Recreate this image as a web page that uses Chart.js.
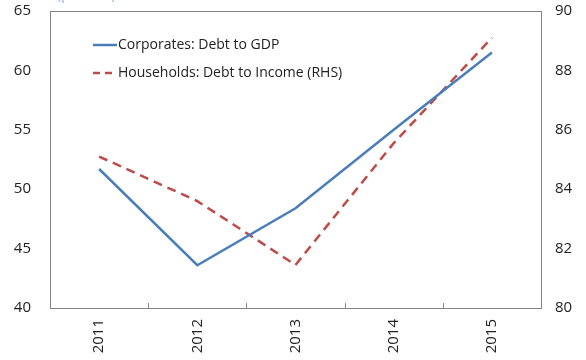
<!DOCTYPE html>
<html>
<head>
<meta charset="utf-8">
<script src="https://cdn.jsdelivr.net/npm/chart.js@4"></script>
<style>
  html, body { margin: 0; padding: 0; background: #fff; }
  #wrap { width: 586px; height: 360px; position: relative; }
</style>
</head>
<body>
<div id="wrap"><canvas id="c" width="586" height="360"></canvas></div>
<script>
// Debt ratios, 2011-2015
const years = ['2011', '2012', '2013', '2014', '2015'];
const corporatesDebtToGDP = [51.7, 43.6, 48.4, 55.0, 61.5];
const householdsDebtToIncome = [85.1, 83.6, 81.45, 85.55, 89.1];
const leftTicks = [40, 45, 50, 55, 60, 65];
const rightTicks = [80, 82, 84, 86, 88, 90];

const seriesNames = ['Corporates: Debt to GDP', 'Households: Debt to Income (RHS)'];
const unitLabel = '(percent)';

const BLUE = '#4a7ebb';
const RED = '#be4b48';
const AXIS = '#868686';
const FONT = '"Open Sans", "Noto Sans", sans-serif';

// Frame around the plot, inner tick marks between categories, legend and unit label
const decorations = {
  id: 'decorations',
  afterDraw(chart) {
    const { ctx, chartArea: a, scales } = chart;
    ctx.save();
    ctx.strokeStyle = AXIS;
    ctx.lineWidth = 1;
    ctx.strokeRect(Math.round(a.left) + 0.5, Math.round(a.top) + 0.5,
                   Math.round(a.right - a.left), Math.round(a.bottom - a.top));
    // category boundary ticks, pointing up into the plot
    const x = scales.x;
    const step = x.getPixelForValue(1) - x.getPixelForValue(0);
    ctx.beginPath();
    for (let i = 0; i < years.length - 1; i++) {
      const px = Math.round(x.getPixelForValue(i) + step / 2) + 0.5;
      ctx.moveTo(px, a.bottom);
      ctx.lineTo(px, a.bottom - 5);
    }
    ctx.stroke();

    // legend
    ctx.font = '14px ' + FONT;
    ctx.fillStyle = '#222';
    ctx.textBaseline = 'middle';
    ctx.textAlign = 'left';
    const lx = 93, ly = [45, 73];
    ctx.lineWidth = 2.5;
    ctx.strokeStyle = BLUE;
    ctx.beginPath(); ctx.moveTo(lx, ly[0]); ctx.lineTo(lx + 24, ly[0]); ctx.stroke();
    ctx.strokeStyle = RED;
    ctx.setLineDash([7, 5]);
    ctx.beginPath(); ctx.moveTo(lx, ly[1]); ctx.lineTo(lx + 24, ly[1]); ctx.stroke();
    ctx.setLineDash([]);
    ctx.fillText(seriesNames[0], lx + 25, ly[0]);
    ctx.fillText(seriesNames[1], lx + 25, ly[1]);

    // unit label, mostly above the top edge
    ctx.fillStyle = '#8db3e2';
    ctx.font = '14px ' + FONT;
    ctx.textBaseline = 'alphabetic';
    ctx.fillText(unitLabel, 57, -1);
    ctx.restore();
  }
};

function noPad(s) {
  s.paddingTop = 0; s.paddingBottom = 0; s.paddingLeft = 0; s.paddingRight = 0;
}

new Chart(document.getElementById('c'), {
  type: 'line',
  data: {
    labels: years,
    datasets: [
      {
        label: seriesNames[0],
        data: corporatesDebtToGDP,
        yAxisID: 'y',
        borderColor: BLUE,
        borderWidth: 2.5,
        pointRadius: 0,
        tension: 0,
        fill: false
      },
      {
        label: seriesNames[1],
        data: householdsDebtToIncome,
        yAxisID: 'y1',
        borderColor: RED,
        borderWidth: 2.5,
        borderDash: [9, 6],
        pointRadius: 0,
        tension: 0,
        fill: false
      }
    ]
  },
  options: {
    responsive: false,
    animation: false,
    devicePixelRatio: 1,
    layout: { padding: { top: 11, left: 0, right: 0, bottom: 0 } },
    plugins: { legend: { display: false }, tooltip: { enabled: false } },
    scales: {
      x: {
        offset: true,
        grid: { display: false, drawTicks: false },
        border: { display: false },
        ticks: {
          color: '#222',
          font: { family: FONT, size: 15 },
          minRotation: 90,
          maxRotation: 90,
          padding: 11
        },
        afterFit(s) { s.height = 52; noPad(s); }
      },
      y: {
        position: 'left',
        min: 40, max: 65,
        afterBuildTicks(s) { s.ticks = leftTicks.map(v => ({ value: v })); },
        grid: { display: false, drawTicks: false },
        border: { display: false },
        ticks: { color: '#222', font: { family: FONT, size: 15 }, padding: 19 },
        afterFit(s) { s.width = 50; noPad(s); }
      },
      y1: {
        position: 'right',
        min: 80, max: 90,
        afterBuildTicks(s) { s.ticks = rightTicks.map(v => ({ value: v })); },
        grid: { display: false, drawTicks: false },
        border: { display: false },
        ticks: { color: '#222', font: { family: FONT, size: 15 }, padding: 14 },
        afterFit(s) { s.width = 45; noPad(s); }
      }
    }
  },
  plugins: [decorations]
});
</script>
</body>
</html>
